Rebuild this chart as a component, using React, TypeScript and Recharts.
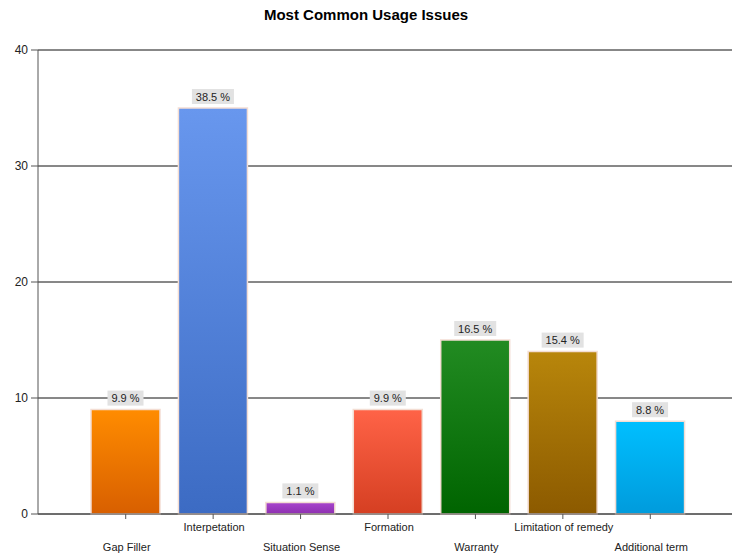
import React from "react";
import {
  BarChart,
  Bar,
  XAxis,
  YAxis,
  CartesianGrid,
  Cell,
  LabelList,
} from "recharts";

const categories = [
  "Gap Filler",
  "Interpetation",
  "Situation Sense",
  "Formation",
  "Warranty",
  "Limitation of remedy",
  "Additional term",
];
const counts = [9, 35, 1, 9, 15, 14, 8];
const percentLabels = ["9.9 %", "38.5 %", "1.1 %", "9.9 %", "16.5 %", "15.4 %", "8.8 %"];
const yTicks = [0, 10, 20, 30, 40];

// top / bottom colours of each bar's gradient
const barColors = [
  ["#ff8c00", "#d85f00"],
  ["#6897ee", "#3c6bc3"],
  ["#a845cc", "#8d2fb0"],
  ["#ff6347", "#d53f22"],
  ["#228b22", "#006400"],
  ["#b8860b", "#8c5a00"],
  ["#00bfff", "#009bdc"],
];

const data = categories.map((name, i) => ({
  name,
  value: counts[i],
  label: percentLabels[i],
}));

const FONT = "'Liberation Sans', Arial, sans-serif";

function StaggeredTick(props: any) {
  const { x, y, payload, index } = props;
  const dy = index % 2 === 0 ? 30 : 10;
  return (
    <text
      x={x + 1}
      y={y + dy}
      textAnchor="middle"
      fontSize={11}
      fontFamily={FONT}
      fill="#222"
    >
      {payload.value}
    </text>
  );
}

function PercentLabel(props: any) {
  const { x, y, width, value } = props;
  const cx = x + width / 2;
  const w = value.length * 6 + 6;
  return (
    <g>
      <rect x={cx - w / 2} y={y - 19} width={w} height={15} fill="#e2e2e2" />
      <text
        x={cx}
        y={y - 7.5}
        textAnchor="middle"
        fontSize={11}
        fontFamily={FONT}
        fill="#222"
      >
        {value}
      </text>
    </g>
  );
}

export default function App() {
  return (
    <div
      style={{
        position: "absolute",
        left: 0,
        top: 0,
        width: 732,
        height: 557,
        overflow: "hidden",
        background: "#fff",
        fontFamily: FONT,
      }}
    >
      <div
        style={{
          position: "absolute",
          top: 6,
          left: 0,
          width: 732,
          textAlign: "center",
          fontWeight: "bold",
          fontSize: 15,
          color: "#000",
        }}
      >
        Most Common Usage Issues
      </div>
      <BarChart
        width={741}
        height={557}
        data={data}
        margin={{ top: 50, right: 3, left: 0, bottom: 0 }}
      >
        <defs>
          {barColors.map((c, i) => (
            <linearGradient key={i} id={`grad${i}`} x1="0" y1="0" x2="0" y2="1">
              <stop offset="0%" stopColor={c[0]} />
              <stop offset="100%" stopColor={c[1]} />
            </linearGradient>
          ))}
        </defs>
        <CartesianGrid vertical={false} stroke="#111" strokeWidth={1} />
        <XAxis
          dataKey="name"
          height={43}
          interval={0}
          padding={{ left: 44, right: 44 }}
          tick={<StaggeredTick />}
          tickSize={5}
          axisLine={{ stroke: "#555" }}
          tickLine={{ stroke: "#555" }}
        />
        <YAxis
          width={38}
          domain={[0, 40]}
          ticks={yTicks}
          tickSize={7}
          tickMargin={3}
          tick={{ fontSize: 12, fill: "#222", fontFamily: FONT }}
          axisLine={{ stroke: "#555" }}
          tickLine={{ stroke: "#555" }}
        />
        <Bar
          dataKey="value"
          barSize={69}
          isAnimationActive={false}
          stroke="#f3ddd3"
          strokeWidth={1.5}
        >
          {data.map((_, i) => (
            <Cell key={i} fill={`url(#grad${i})`} />
          ))}
          <LabelList dataKey="label" content={<PercentLabel />} />
        </Bar>
      </BarChart>
    </div>
  );
}
